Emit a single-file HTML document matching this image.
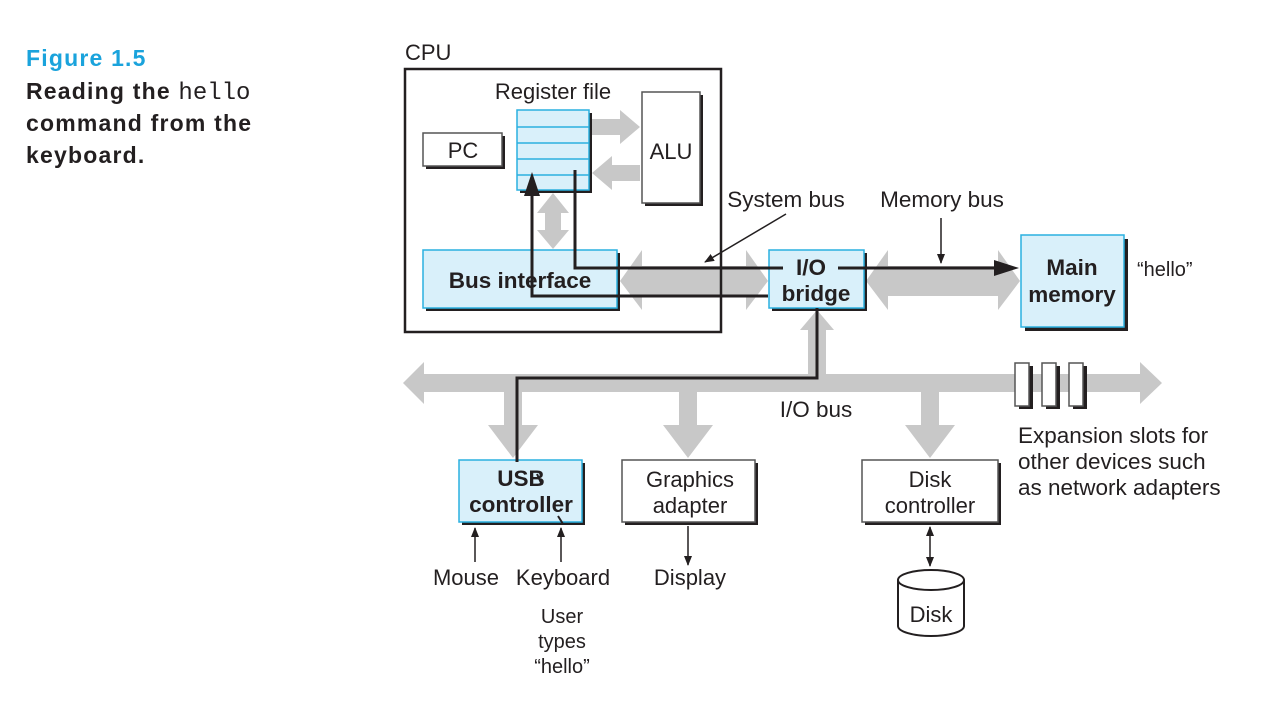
<!DOCTYPE html>
<html><head><meta charset="utf-8"><style>
html,body{margin:0;padding:0;background:#fff;width:1267px;height:708px;overflow:hidden}
svg{display:block}
text{font-family:"Liberation Sans",sans-serif;fill:#231f20}
.b{font-weight:bold}
.c{font-size:23px;font-weight:bold;letter-spacing:1.2px}
</style></head><body>
<svg width="1267" height="708" viewBox="0 0 1267 708" xmlns="http://www.w3.org/2000/svg">
<defs>
<marker id="ah" markerWidth="10" markerHeight="10" refX="9" refY="5" orient="auto" markerUnits="userSpaceOnUse"><path d="M0,1 L10,5 L0,9 z" fill="#231f20"/></marker>
<marker id="ahs" markerWidth="10" markerHeight="10" refX="1" refY="5" orient="auto" markerUnits="userSpaceOnUse"><path d="M10,1 L0,5 L10,9 z" fill="#231f20"/></marker>
</defs>
<text x="26" y="66" class="c" style="fill:#1aa3dc">Figure 1.5</text>
<text x="26" y="99" class="c">Reading the <tspan style="font-family:'Liberation Mono',monospace;font-weight:normal;font-size:24px;letter-spacing:0">hello</tspan></text>
<text x="26" y="131" class="c">command from the</text>
<text x="26" y="163" class="c">keyboard.</text>

<g fill="#c8c8c8">
<polygon points="592,119 620,119 620,110 640,127 620,144 620,135 592,135"/>
<polygon points="640,165 612,165 612,156 592,173 612,190 612,181 640,181"/>
<polygon points="545,213 537,213 553,193 569,213 561,213 561,230 569,230 553,249 537,230 545,230"/>
<polygon points="620,281 642,250 642,266 746,266 746,250 768,281 746,310 746,296 642,296 642,310"/>
<polygon points="866,281 888,250 888,266 998,266 998,250 1020,281 998,310 998,296 888,296 888,310"/>
<polygon points="403,383 424,362 424,374 1140,374 1140,362 1162,383 1140,404 1140,392 424,392 424,404"/>
<polygon points="808,374 808,330 800,330 817,310 834,330 826,330 826,374"/>
<polygon points="504,392 522,392 522,425 538,425 513,458 488,425 504,425"/>
<polygon points="679,392 697,392 697,425 713,425 688,458 663,425 679,425"/>
<polygon points="921,392 939,392 939,425 955,425 930,458 905,425 921,425"/>
</g>

<text x="405" y="60" style="font-size:22px">CPU</text>
<rect x="405" y="69" width="316" height="263" fill="none" stroke="#231f20" stroke-width="2.5"/>

<g stroke-width="1.5">
<rect x="426" y="136" width="79" height="33" fill="#231f20"/>
<rect x="423" y="133" width="79" height="33" fill="#fff" stroke="#555"/>
<rect x="645" y="95" width="58" height="111" fill="#231f20"/>
<rect x="642" y="92" width="58" height="111" fill="#fff" stroke="#555"/>
<rect x="520" y="113" width="72" height="80" fill="#231f20"/>
<rect x="517" y="110" width="72" height="80" fill="#d9f0fa" stroke="#2ab0e0"/>
<g stroke="#2ab0e0"><line x1="517" y1="127" x2="589" y2="127"/><line x1="517" y1="143" x2="589" y2="143"/><line x1="517" y1="159" x2="589" y2="159"/><line x1="517" y1="175" x2="589" y2="175"/></g>
<rect x="426" y="253" width="194" height="58" fill="#231f20"/>
<rect x="423" y="250" width="194" height="58" fill="#d9f0fa" stroke="#2ab0e0"/>
<rect x="772" y="253" width="95" height="58" fill="#231f20"/>
<rect x="769" y="250" width="95" height="58" fill="#d9f0fa" stroke="#2ab0e0"/>
<rect x="1025" y="239" width="103" height="92" fill="#231f20"/>
<rect x="1021" y="235" width="103" height="92" fill="#d9f0fa" stroke="#2ab0e0"/>
<rect x="462" y="463" width="123" height="62" fill="#231f20"/>
<rect x="459" y="460" width="123" height="62" fill="#d9f0fa" stroke="#2ab0e0"/>
<rect x="625" y="463" width="133" height="62" fill="#231f20"/>
<rect x="622" y="460" width="133" height="62" fill="#fff" stroke="#555"/>
<rect x="865" y="463" width="136" height="62" fill="#231f20"/>
<rect x="862" y="460" width="136" height="62" fill="#fff" stroke="#555"/>
<rect x="1019" y="366" width="14" height="43" fill="#231f20"/>
<rect x="1015" y="363" width="14" height="43" fill="#fff" stroke="#555"/>
<rect x="1046" y="366" width="14" height="43" fill="#231f20"/>
<rect x="1042" y="363" width="14" height="43" fill="#fff" stroke="#555"/>
<rect x="1073" y="366" width="14" height="43" fill="#231f20"/>
<rect x="1069" y="363" width="14" height="43" fill="#fff" stroke="#555"/>
</g>

<g fill="none" stroke="#231f20" stroke-width="3">
<polyline points="575,170 575,268 783,268"/>
<line x1="838" y1="268" x2="866" y2="268"/>
<polyline points="866,268 1000,268"/>
<polyline points="768,296 532,296 532,192"/>
<polyline points="817,308 817,378 517,378 517,462"/>
</g>
<polygon points="994,260 1019,268 994,276" fill="#231f20"/>
<polygon points="524,196 532,172 540,196" fill="#231f20"/>

<text x="463" y="158" style="font-size:22px" text-anchor="middle">PC</text>
<text x="671" y="159" style="font-size:22px" text-anchor="middle">ALU</text>
<text x="553" y="99" style="font-size:22px" text-anchor="middle">Register file</text>
<text x="520" y="288" class="b" style="font-size:22.5px" text-anchor="middle">Bus interface</text>
<text x="811" y="275" class="b" style="font-size:22.5px" text-anchor="middle">I/O</text>
<text x="816" y="301" class="b" style="font-size:22.5px" text-anchor="middle">bridge</text>
<text x="1072" y="275" class="b" style="font-size:22.5px" text-anchor="middle">Main</text>
<text x="1072" y="302" class="b" style="font-size:22.5px" text-anchor="middle">memory</text>
<text x="1137" y="276" style="font-size:20px">“hello”</text>
<text x="521" y="486" class="b" style="font-size:22.5px" text-anchor="middle">USB</text>
<text x="521" y="512" class="b" style="font-size:22.5px" text-anchor="middle">controller</text>
<text x="690" y="487" style="font-size:22px" text-anchor="middle">Graphics</text>
<text x="690" y="513" style="font-size:22px" text-anchor="middle">adapter</text>
<text x="930" y="487" style="font-size:22px" text-anchor="middle">Disk</text>
<text x="930" y="513" style="font-size:22px" text-anchor="middle">controller</text>
<line x1="537" y1="474" x2="542" y2="485" stroke="#231f20" stroke-width="2"/>
<line x1="558" y1="516" x2="563" y2="524" stroke="#231f20" stroke-width="2"/>

<text x="786" y="207" style="font-size:22.5px" text-anchor="middle">System bus</text>
<text x="942" y="207" style="font-size:22.5px" text-anchor="middle">Memory bus</text>
<text x="816" y="417" style="font-size:22.5px" text-anchor="middle">I/O bus</text>
<text x="1018" y="443" style="font-size:22.5px">Expansion slots for</text>
<text x="1018" y="469" style="font-size:22.5px">other devices such</text>
<text x="1018" y="495" style="font-size:22.5px">as network adapters</text>
<text x="466" y="585" style="font-size:22px" text-anchor="middle">Mouse</text>
<text x="563" y="585" style="font-size:22px" text-anchor="middle">Keyboard</text>
<text x="690" y="585" style="font-size:22px" text-anchor="middle">Display</text>
<text x="562" y="623" style="font-size:20px" text-anchor="middle">User</text>
<text x="562" y="648" style="font-size:20px" text-anchor="middle">types</text>
<text x="562" y="673" style="font-size:20px" text-anchor="middle">“hello”</text>

<g stroke="#231f20" stroke-width="1.5" fill="none">
<line x1="786" y1="214" x2="705" y2="262" marker-end="url(#ah)"/>
<line x1="941" y1="218" x2="941" y2="263" marker-end="url(#ah)"/>
<line x1="475" y1="562" x2="475" y2="528" marker-end="url(#ah)"/>
<line x1="561" y1="562" x2="561" y2="528" marker-end="url(#ah)"/>
<line x1="688" y1="526" x2="688" y2="565" marker-end="url(#ah)"/>
<line x1="930" y1="527" x2="930" y2="566" marker-end="url(#ah)" marker-start="url(#ahs)"/>
</g>

<path d="M898,580 L898,626 A33,10 0 0 0 964,626 L964,580" fill="#fff" stroke="#231f20" stroke-width="2"/>
<ellipse cx="931" cy="580" rx="33" ry="10" fill="#fff" stroke="#231f20" stroke-width="2"/>
<text x="931" y="622" style="font-size:22px" text-anchor="middle">Disk</text>
</svg>
</body></html>
